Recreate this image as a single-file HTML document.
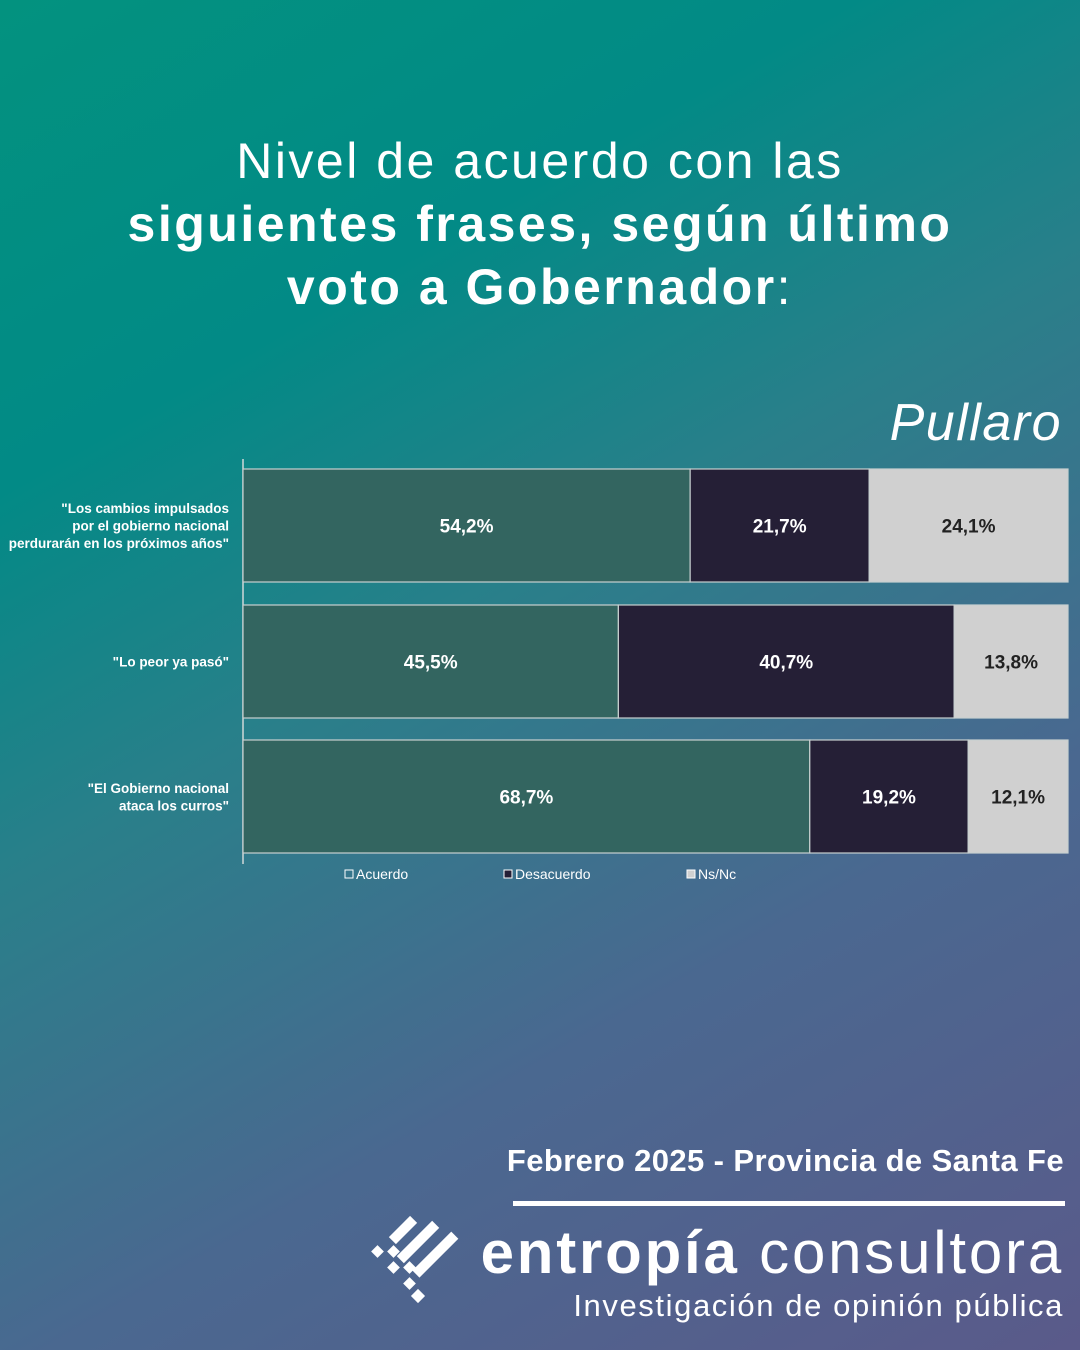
<!DOCTYPE html>
<html><head><meta charset="utf-8"><style>
body{margin:0;width:1080px;height:1350px;overflow:hidden;font-family:"Liberation Sans","DejaVu Sans",sans-serif;}
#bg{position:absolute;left:0;top:0;width:1080px;height:1350px;background:linear-gradient(150deg,#03927f 0%,#028a86 25%,#2a7f8a 45%,#4a6890 70%,#5a5a8a 100%);}
.t{position:absolute;color:#fff;text-align:center;}
</style></head><body>
<div id="bg"></div>
<div class="t" style="left:0;width:1080px;top:130px;font-size:50px;line-height:63px;letter-spacing:2.5px;">Nivel de acuerdo con las<br><b>siguientes frases, según último<br>voto a Gobernador</b>:</div>
<div class="t" style="right:18px;top:393px;font-size:52px;font-style:italic;letter-spacing:1.5px;">Pullaro</div>
<svg id="chart" width="1080" height="900" style="position:absolute;left:0;top:0"></svg>
<div class="t" style="right:16px;top:1143px;font-size:31px;font-weight:bold;letter-spacing:0.4px;">Febrero 2025 - Provincia de Santa Fe</div>
<div style="position:absolute;left:513px;top:1201px;width:552px;height:5px;background:#fff;"></div>
<svg width="100" height="100" style="position:absolute;left:368px;top:1205px" viewBox="0 0 100 100">
<g fill="#fff">
<rect x="30" y="10" width="10" height="30" transform="rotate(45 35 25)"/>
<rect x="45" y="12" width="10" height="50" transform="rotate(45 50 37)"/>
<rect x="62" y="22" width="10" height="55" transform="rotate(45 67 50)"/>
<rect x="5" y="42" width="9" height="9" transform="rotate(45 9.5 46.5)"/>
<rect x="21" y="42" width="9" height="9" transform="rotate(45 25.5 46.5)"/>
<rect x="21" y="58" width="9" height="9" transform="rotate(45 25.5 62.5)"/>
<rect x="37" y="58" width="9" height="9" transform="rotate(45 41.5 62.5)"/>
<rect x="37" y="74" width="9" height="9" transform="rotate(45 41.5 78.5)"/>
<rect x="45" y="86" width="10" height="10" transform="rotate(45 50 91)"/>
</g></svg>
<div class="t" style="right:16px;top:1218px;font-size:60px;letter-spacing:2.8px;"><b>entropía</b> consultora</div>
<div class="t" style="right:16px;top:1288px;font-size:31px;letter-spacing:1.6px;">Investigación de opinión pública</div>
<script>
const categories=[['"Los cambios impulsados','por el gobierno nacional','perdurarán en los próximos años"'],['"Lo peor ya pasó"'],['"El Gobierno nacional','ataca los curros"']];
const acuerdo=[54.2,45.5,68.7];
const desacuerdo=[21.7,40.7,19.2];
const nsnc=[24.1,13.8,12.1];
const seriesNames=['Acuerdo','Desacuerdo','Ns/Nc'];
const colors=['#336560','#251f36','#d0d0d0'];
const textColors=['#fff','#fff','#222'];
const NS='http://www.w3.org/2000/svg';
const svg=document.getElementById('chart');
const x0=243,xw=825;
const rowTop=[469,605,740],rowH=113;
const xs=v=>v/100*xw;
function el(t,a){const e=document.createElementNS(NS,t);for(const k in a)e.setAttribute(k,a[k]);svg.appendChild(e);return e;}
const axis=el('line',{x1:x0,y1:459,x2:x0,y2:864,stroke:'#cfd8d8','stroke-width':1.5});


const series=[acuerdo,desacuerdo,nsnc];
categories.forEach((cat,i)=>{
  let cx=x0;const y=rowTop[i];
  series.forEach((s,j)=>{
    const w=xs(s[i]);
    const r=el('rect',{x:cx,y:y,width:w,height:rowH,fill:colors[j],stroke:'#c8d0d0','stroke-width':1.2});
    
    
    const t=el('text',{x:cx+w/2,y:y+rowH/2+7,'text-anchor':'middle','font-size':19,'font-weight':'bold',fill:textColors[j]});
    t.textContent=s[i].toFixed(1).replace('.',',')+'%';
    
    
    cx+=w;
  });
  const n=cat.length,cy=y+rowH/2-(n-1)*17.5/2+5;
  cat.forEach((line,k)=>{
    const t=el('text',{x:229,y:cy+k*17.5,'text-anchor':'end','font-size':13.5,'font-weight':'bold',fill:'#fff'});
    t.textContent=line;
    
    
  });
});
const legX=[345,504,687];
seriesNames.forEach((n,j)=>{
  const r=el('rect',{x:legX[j],y:870,width:8,height:8,fill:j==0?'none':colors[j],stroke:'#fff','stroke-width':1});
  
  
  const t=el('text',{x:legX[j]+11,y:879,'font-size':14,fill:'#fff'});
  t.textContent=n;
  
  
});
</script>
</body></html>
